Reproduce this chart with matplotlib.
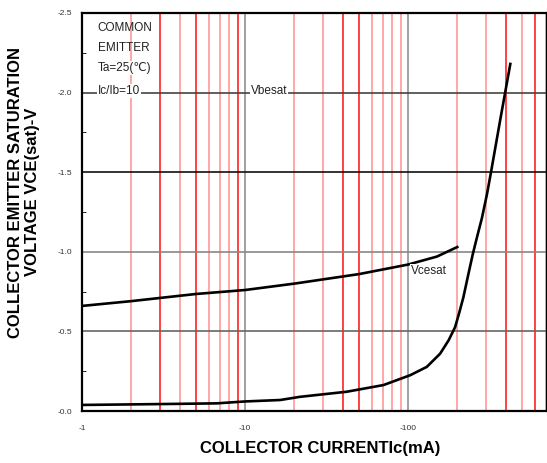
import numpy as np
import matplotlib
matplotlib.use("Agg")
import matplotlib.pyplot as plt
from matplotlib.ticker import FixedLocator, FuncFormatter

plt.rcParams['font.family'] = ['Liberation Sans', 'DejaVu Sans']

# collector current (mA, magnitude) and saturation voltages (V)
ic_vbe = [1, 2, 3, 5, 10, 20, 50, 100, 150, 200]
vbesat = [-0.66, -0.69, -0.71, -0.735, -0.76, -0.80, -0.86, -0.92, -0.97, -1.03]

ic_vce = [1, 3.3, 6.7, 10, 16.4, 21.7, 42, 70.6, 103, 130, 157, 177, 194,
          206, 218, 234, 249, 264, 283, 304, 322, 367, 423]
vcesat = [-0.038, -0.044, -0.048, -0.06, -0.069, -0.089, -0.121, -0.163,
          -0.225, -0.277, -0.36, -0.444, -0.527, -0.62, -0.714, -0.86,
          -0.985, -1.09, -1.21, -1.36, -1.50, -1.83, -2.18]

x_ticks = [1, 10, 100]
y_ticks = [-2.5, -2.0, -1.5, -1.0, -0.5, 0.0]

fig = plt.figure(figsize=(5.47, 4.63), dpi=100)
ax = fig.add_axes([82 / 547, 52 / 463, 465 / 547, 398 / 463])

ax.set_xscale('log')
ax.set_xlim(1, 710)
ax.set_ylim(0, -2.5)

# red minor grid, dark and light lines like the scan
dark = {3, 5, 9, 40, 50, 400, 600}
for dec in [1, 10, 100]:
    for m in range(2, 10):
        v = m * dec
        if v > 710:
            continue
        c = '#ff1010' if v in dark else '#ff9090'
        ax.axvline(v, color=c, lw=1.1, zorder=1)
for v in [10, 100]:
    ax.axvline(v, color='#888888', lw=1.1, zorder=1)

# horizontal grid
hcol = {-2.0: '#444444', -1.5: '#111111', -1.0: '#888888', -0.5: '#666666'}
for v, c in hcol.items():
    ax.axhline(v, color=c, lw=1.2, zorder=1)

ax.plot(ic_vbe, vbesat, color='black', lw=1.9, zorder=3)
ax.plot(ic_vce, vcesat, color='black', lw=1.9, zorder=3)

ax.xaxis.set_major_locator(FixedLocator(x_ticks))
ax.xaxis.set_minor_locator(FixedLocator([]))
ax.xaxis.set_major_formatter(FuncFormatter(lambda v, p: '-%d' % v))
ax.yaxis.set_major_locator(FixedLocator(y_ticks))
ax.yaxis.set_minor_locator(FixedLocator(np.arange(-2.25, 0, 0.5)))
ax.yaxis.set_major_formatter(FuncFormatter(lambda v, p: '-%.1f' % abs(v)))
ax.tick_params(axis='x', length=0, pad=10, labelsize=6, labelcolor='#333333')
ax.tick_params(axis='y', which='major', length=0, pad=7, labelsize=6,
               labelcolor='#333333')
ax.tick_params(axis='y', which='minor', direction='in', length=3)

for s in ax.spines.values():
    s.set_linewidth(1.6)
    s.set_zorder(4)

box = dict(facecolor='white', edgecolor='none', pad=0.5)
ax.text(1.25, -2.39, 'COMMON', fontsize=8.5, color='#222222', zorder=5)
ax.text(1.25, -2.26, 'EMITTER', fontsize=8.5, color='#222222', zorder=5)
ax.text(1.25, -2.135, 'Ta=25(℃)', fontsize=8.5, color='#222222', zorder=5,
        bbox=box)
ax.text(1.25, -1.99, 'Ic/Ib=10', fontsize=8.5, color='#222222', zorder=5,
        bbox=box)
ax.text(10.8, -1.99, 'Vbesat', fontsize=8.5, color='#222222', zorder=5,
        bbox=box)
ax.text(104, -0.86, 'Vcesat', fontsize=8.5, color='#222222', zorder=5,
        bbox=box)

fig.text(24 / 547, 1 - 192 / 463,
         'COLLECTOR EMITTER SATURATION\nVOLTAGE VCE(sat)-V',
         rotation=90, ha='center', va='center', fontsize=12,
         fontweight='bold', linespacing=1.15)
fig.text(320 / 547, 1 - 449 / 463, 'COLLECTOR CURRENTIc(mA)',
         ha='center', va='center', fontsize=12, fontweight='bold')

fig.savefig('out.png', dpi=100)
